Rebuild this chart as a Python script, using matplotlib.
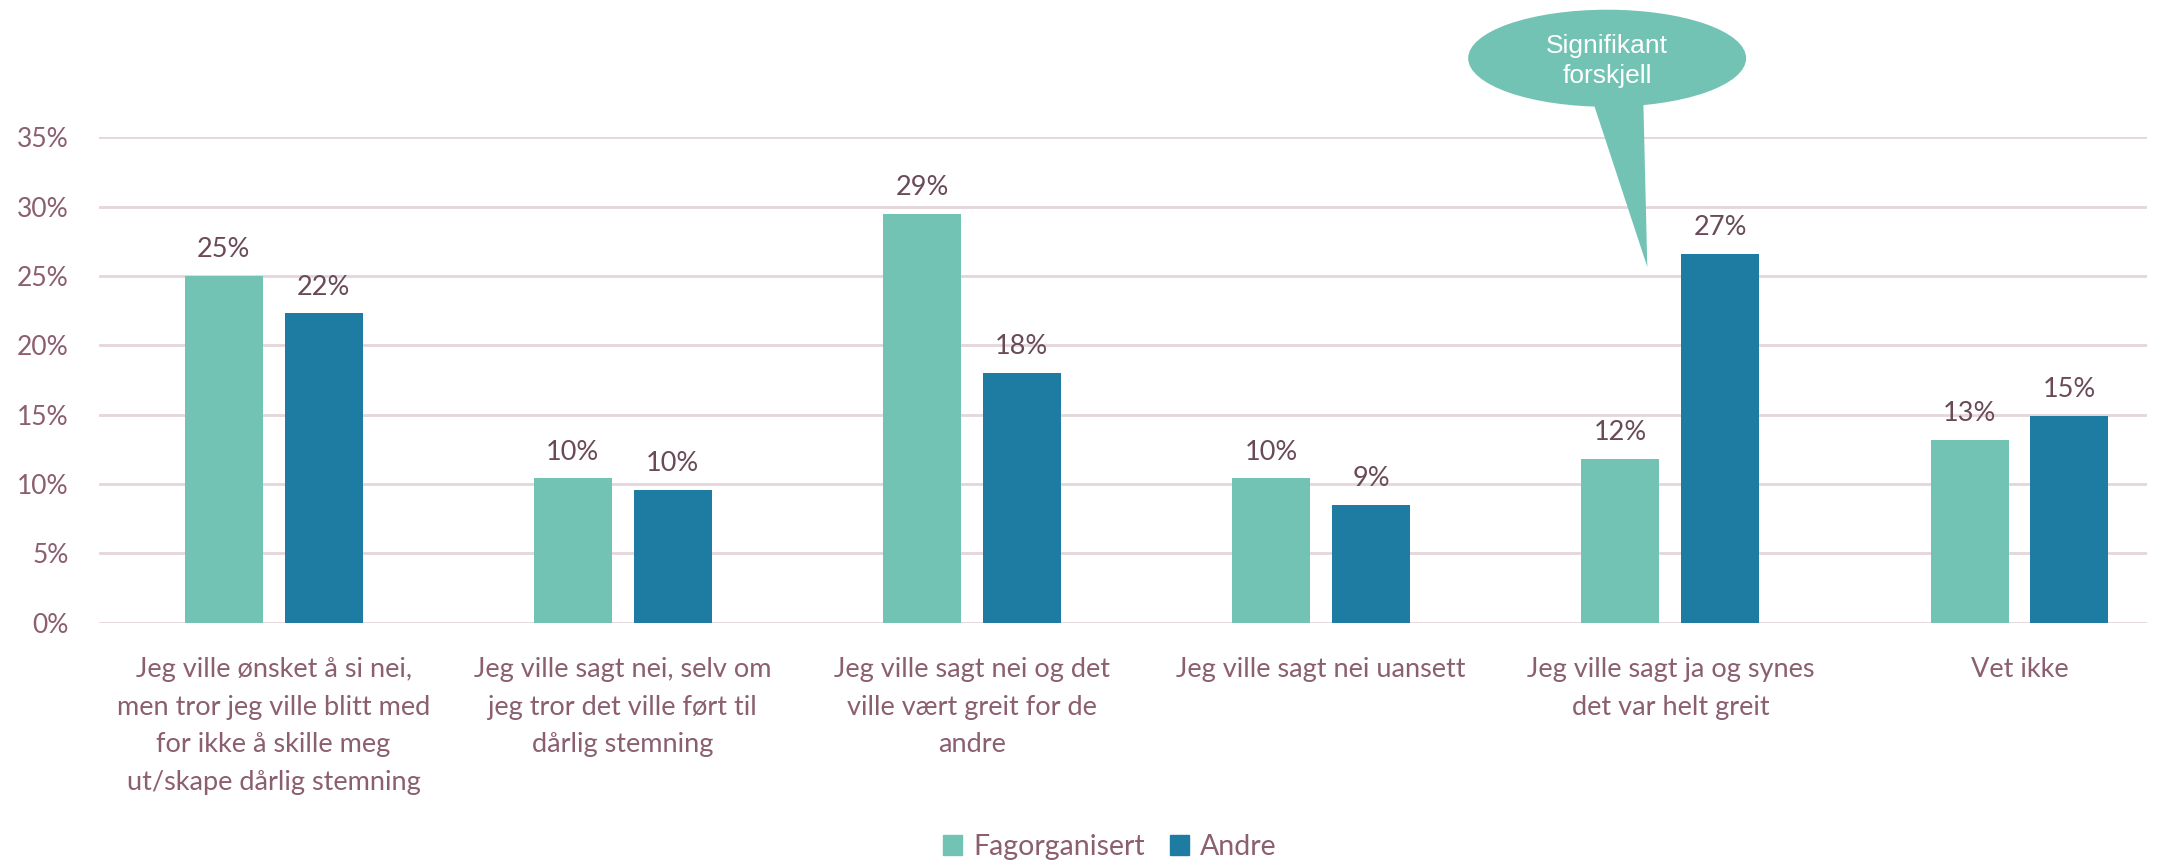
import matplotlib
matplotlib.use("Agg")
import matplotlib.pyplot as plt
from matplotlib.patches import Ellipse, Polygon, Rectangle
import numpy as np

categories = [
    "Jeg ville ønsket å si nei,\nmen tror jeg ville blitt med\nfor ikke å skille meg\nut/skape dårlig stemning",
    "Jeg ville sagt nei, selv om\njeg tror det ville ført til\ndårlig stemning",
    "Jeg ville sagt nei og det\nville vært greit for de\nandre",
    "Jeg ville sagt nei uansett",
    "Jeg ville sagt ja og synes\ndet var helt greit",
    "Vet ikke",
]
series_names = ["Fagorganisert", "Andre"]
fagorganisert = [25.0, 10.4, 29.5, 10.4, 11.8, 13.2]
andre = [22.3, 9.6, 18.0, 8.5, 26.6, 14.9]
labels_fag = ["25%", "10%", "29%", "10%", "12%", "13%"]
labels_andre = ["22%", "10%", "18%", "9%", "27%", "15%"]
yticks = [0, 5, 10, 15, 20, 25, 30, 35]
callout_text = "Signifikant\nforskjell"

TEAL = "#72C3B4"
BLUE = "#1E7CA2"
TICK_COLOR = "#8B5E70"
LABEL_COLOR = "#6A4A58"
GRID_COLOR = "#E3D6DC"

plt.rcParams['font.family'] = ['Lato', 'DejaVu Sans']

W, H = 2176, 860
fig = plt.figure(figsize=(W / 100, H / 100), dpi=100)
ax = fig.add_axes([99 / W, 1 - 622.7 / H, (2147 - 99) / W, (622.7 - 137.3) / H])

x = np.arange(len(categories))
bw = 0.2234
off = 0.143
b1 = ax.bar(x - off, fagorganisert, bw, color=TEAL, label=series_names[0], zorder=3)
b2 = ax.bar(x + off, andre, bw, color=BLUE, label=series_names[1], zorder=3)

for bars, labs in ((b1, labels_fag), (b2, labels_andre)):
    for rect, lab in zip(bars, labs):
        ax.annotate(lab, (rect.get_x() + rect.get_width() / 2, rect.get_height()),
                    xytext=(0, 10), textcoords="offset points", ha="center", va="bottom",
                    fontsize=19.5, color=LABEL_COLOR)

ax.set_ylim(0, 35)
ax.set_xlim(-0.5, 5.365)
ax.set_yticks(yticks)
ax.set_yticklabels([f"{v}%" for v in yticks])
ax.yaxis.grid(True, color=GRID_COLOR, linewidth=2, zorder=0)
ax.set_axisbelow(True)
for s in ax.spines.values():
    s.set_visible(False)
ax.tick_params(axis="y", length=0, pad=22, labelsize=19, labelcolor=TICK_COLOR)
ax.tick_params(axis="x", length=0, pad=25, labelsize=19.5, labelcolor=TICK_COLOR)
ax.set_xticks(x)
ax.set_xticklabels(categories, linespacing=1.62, va="top")
for t in ax.get_yticklabels():
    t.set_horizontalalignment("right")

# callout
ell = Ellipse((3.819, 40.7), 0.796, 7.0, facecolor=TEAL, edgecolor="none", clip_on=False, zorder=5)
ax.add_patch(ell)
tail = Polygon([(3.770, 38.2), (3.922, 38.2), (3.934, 25.65)], closed=True,
               facecolor=TEAL, edgecolor="none", clip_on=False, zorder=5)
ax.add_patch(tail)
ax.text(3.819, 40.5, callout_text, ha="center", va="center", fontsize=19,
        color="white", family=["Liberation Sans", "DejaVu Sans"], linespacing=1.3, zorder=6,
        clip_on=False)

handles = [Rectangle((0, 0), 1, 1, color=TEAL), Rectangle((0, 0), 1, 1, color=BLUE)]
fig.legend(handles, series_names, loc="center", bbox_to_anchor=(1110 / W, 1 - 847 / H),
           ncol=2, frameon=False, fontsize=20.5, labelcolor=TICK_COLOR,
           handlelength=0.65, handleheight=0.65, handletextpad=0.4, columnspacing=0.9)

fig.savefig("out.png", dpi=100, facecolor="white")
